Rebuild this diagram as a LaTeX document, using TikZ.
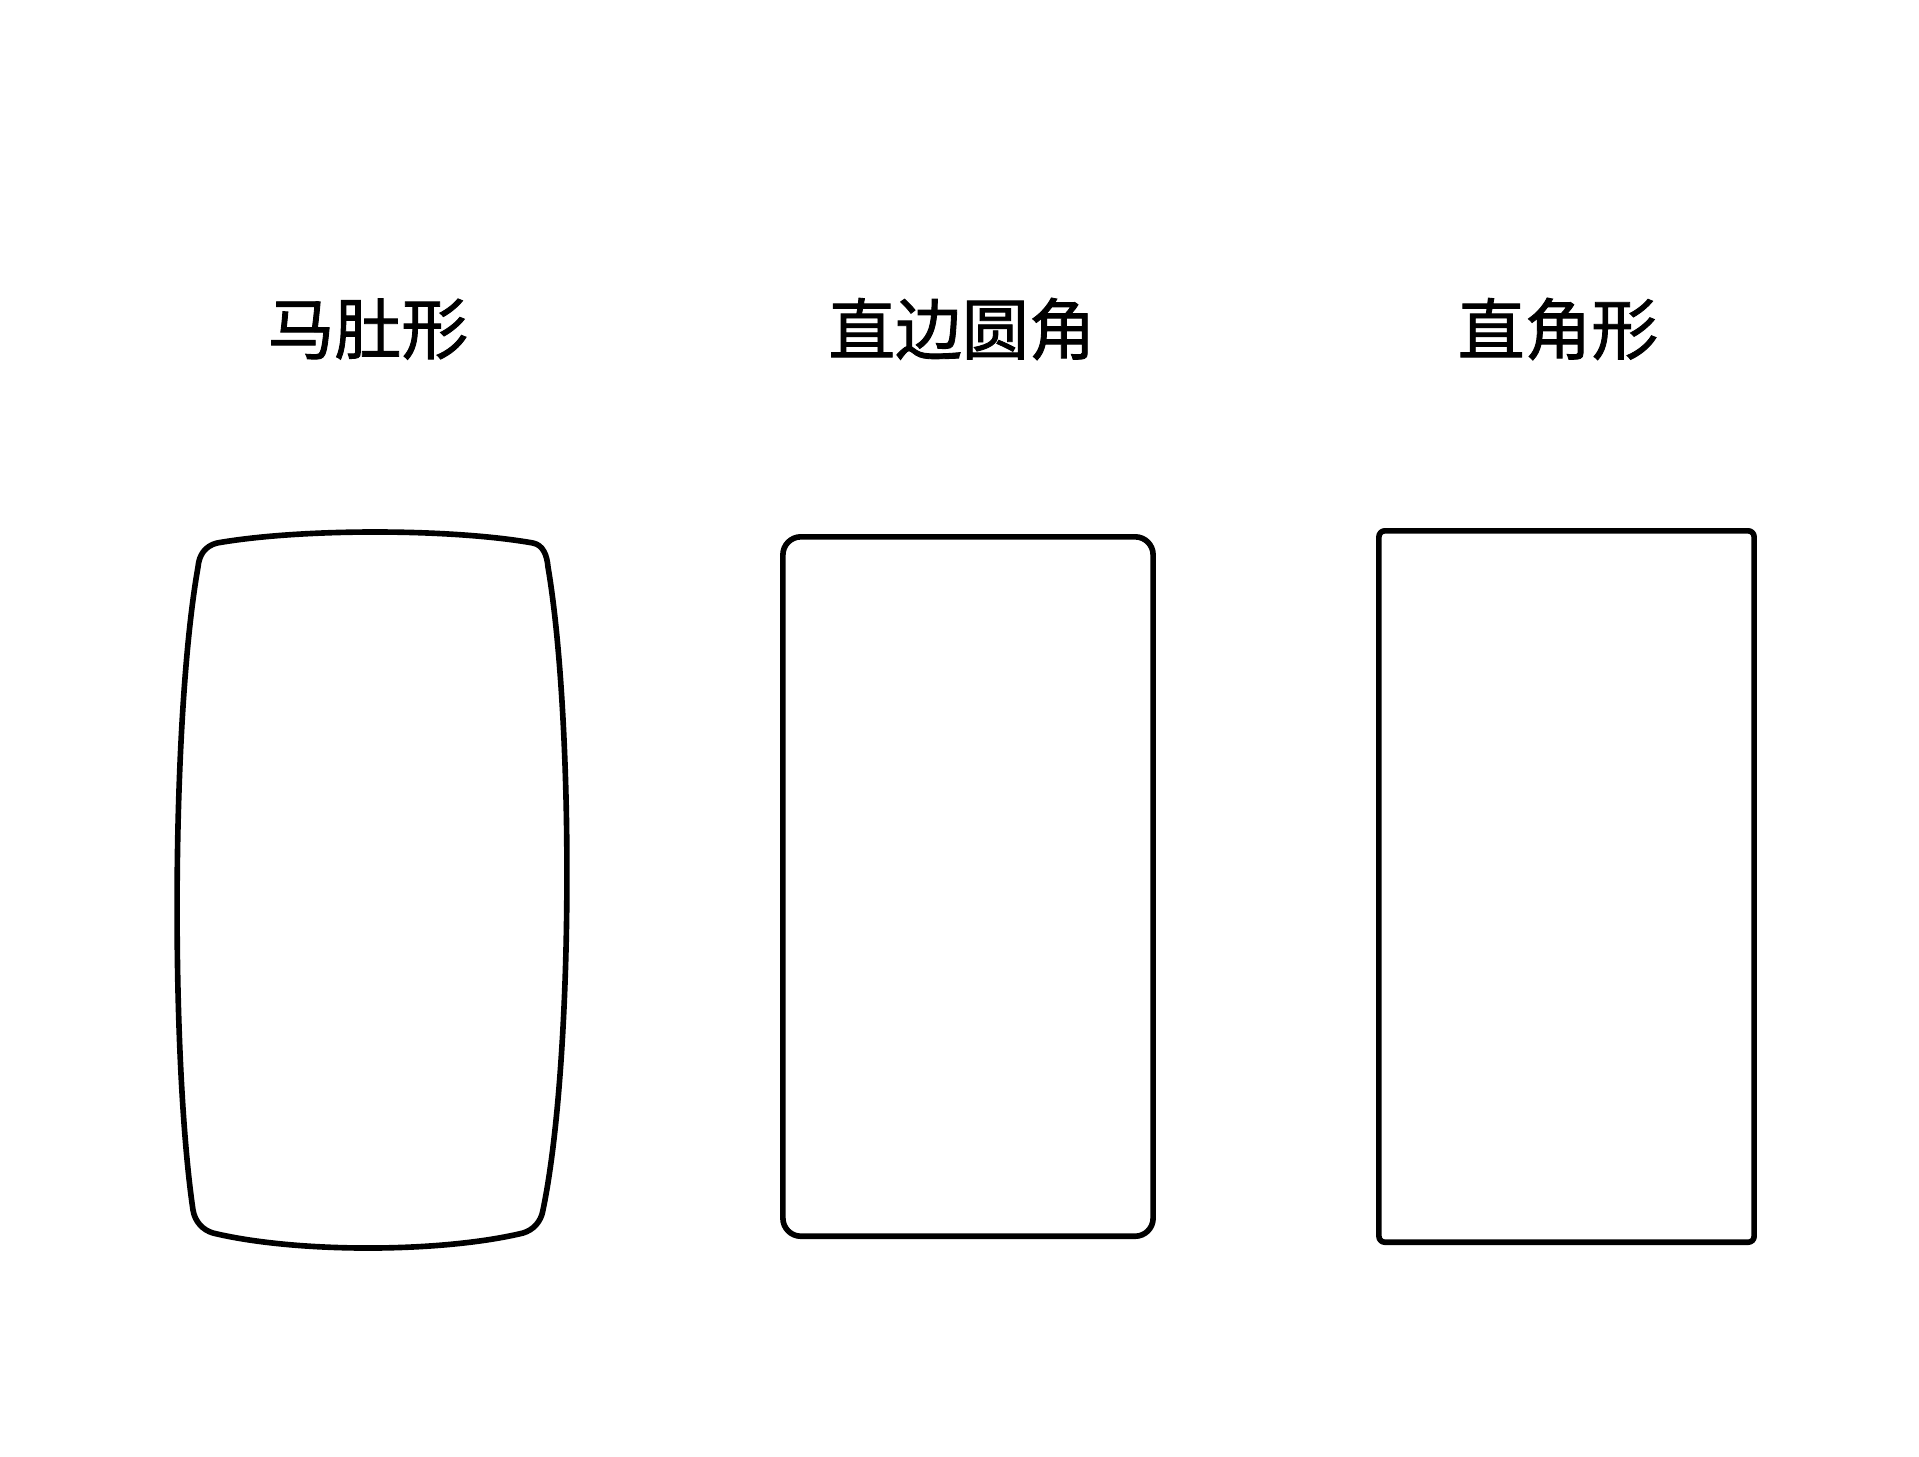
\documentclass[tikz,border=0pt]{standalone}
\usepackage{fontspec}
\newfontfamily\cjk[FakeBold=1.3]{Noto Sans CJK SC}
\begin{document}
\begin{tikzpicture}[x=0.01cm,y=-0.01cm,
  outline/.style={draw=black,line width=1.6pt,line join=round},
  label/.style={font=\cjk\fontsize{19pt}{23pt}\selectfont,inner sep=0pt,text=black}
]
\useasboundingbox[fill=white] (0,0) rectangle (1919,1456);
% labels
\node[label] (t1) at (368,329) {马肚形};
\node[label] (t2) at (962,329) {直边圆角};
\node[label] (t3) at (1558,329) {直角形};
% horse-belly shape
\draw[outline] (217,543)
  .. controls (300,528.3) and (450,528.3) .. (533,543)
  .. controls (543,545) and (547,555) .. (548,567)
  .. controls (574,720) and (574,1060) .. (543,1210)
  .. controls (541,1222) and (533,1230) .. (523,1233)
  .. controls (440,1253) and (296,1253) .. (213,1233)
  .. controls (203,1230) and (195,1222) .. (193,1210)
  .. controls (171,1060) and (171,720) .. (198,567)
  .. controls (199,555) and (205,546) .. cycle;
% straight-sided rounded rectangle
\node[outline,rectangle,rounded corners=0.18cm,minimum width=3.70cm,minimum height=6.99cm,inner sep=0pt] (b2) at (968,886.5) {};
% right-angle rectangle
\node[outline,rectangle,rounded corners=0.06cm,minimum width=3.75cm,minimum height=7.11cm,inner sep=0pt] (b3) at (1566.5,886.5) {};
\end{tikzpicture}
\end{document}
